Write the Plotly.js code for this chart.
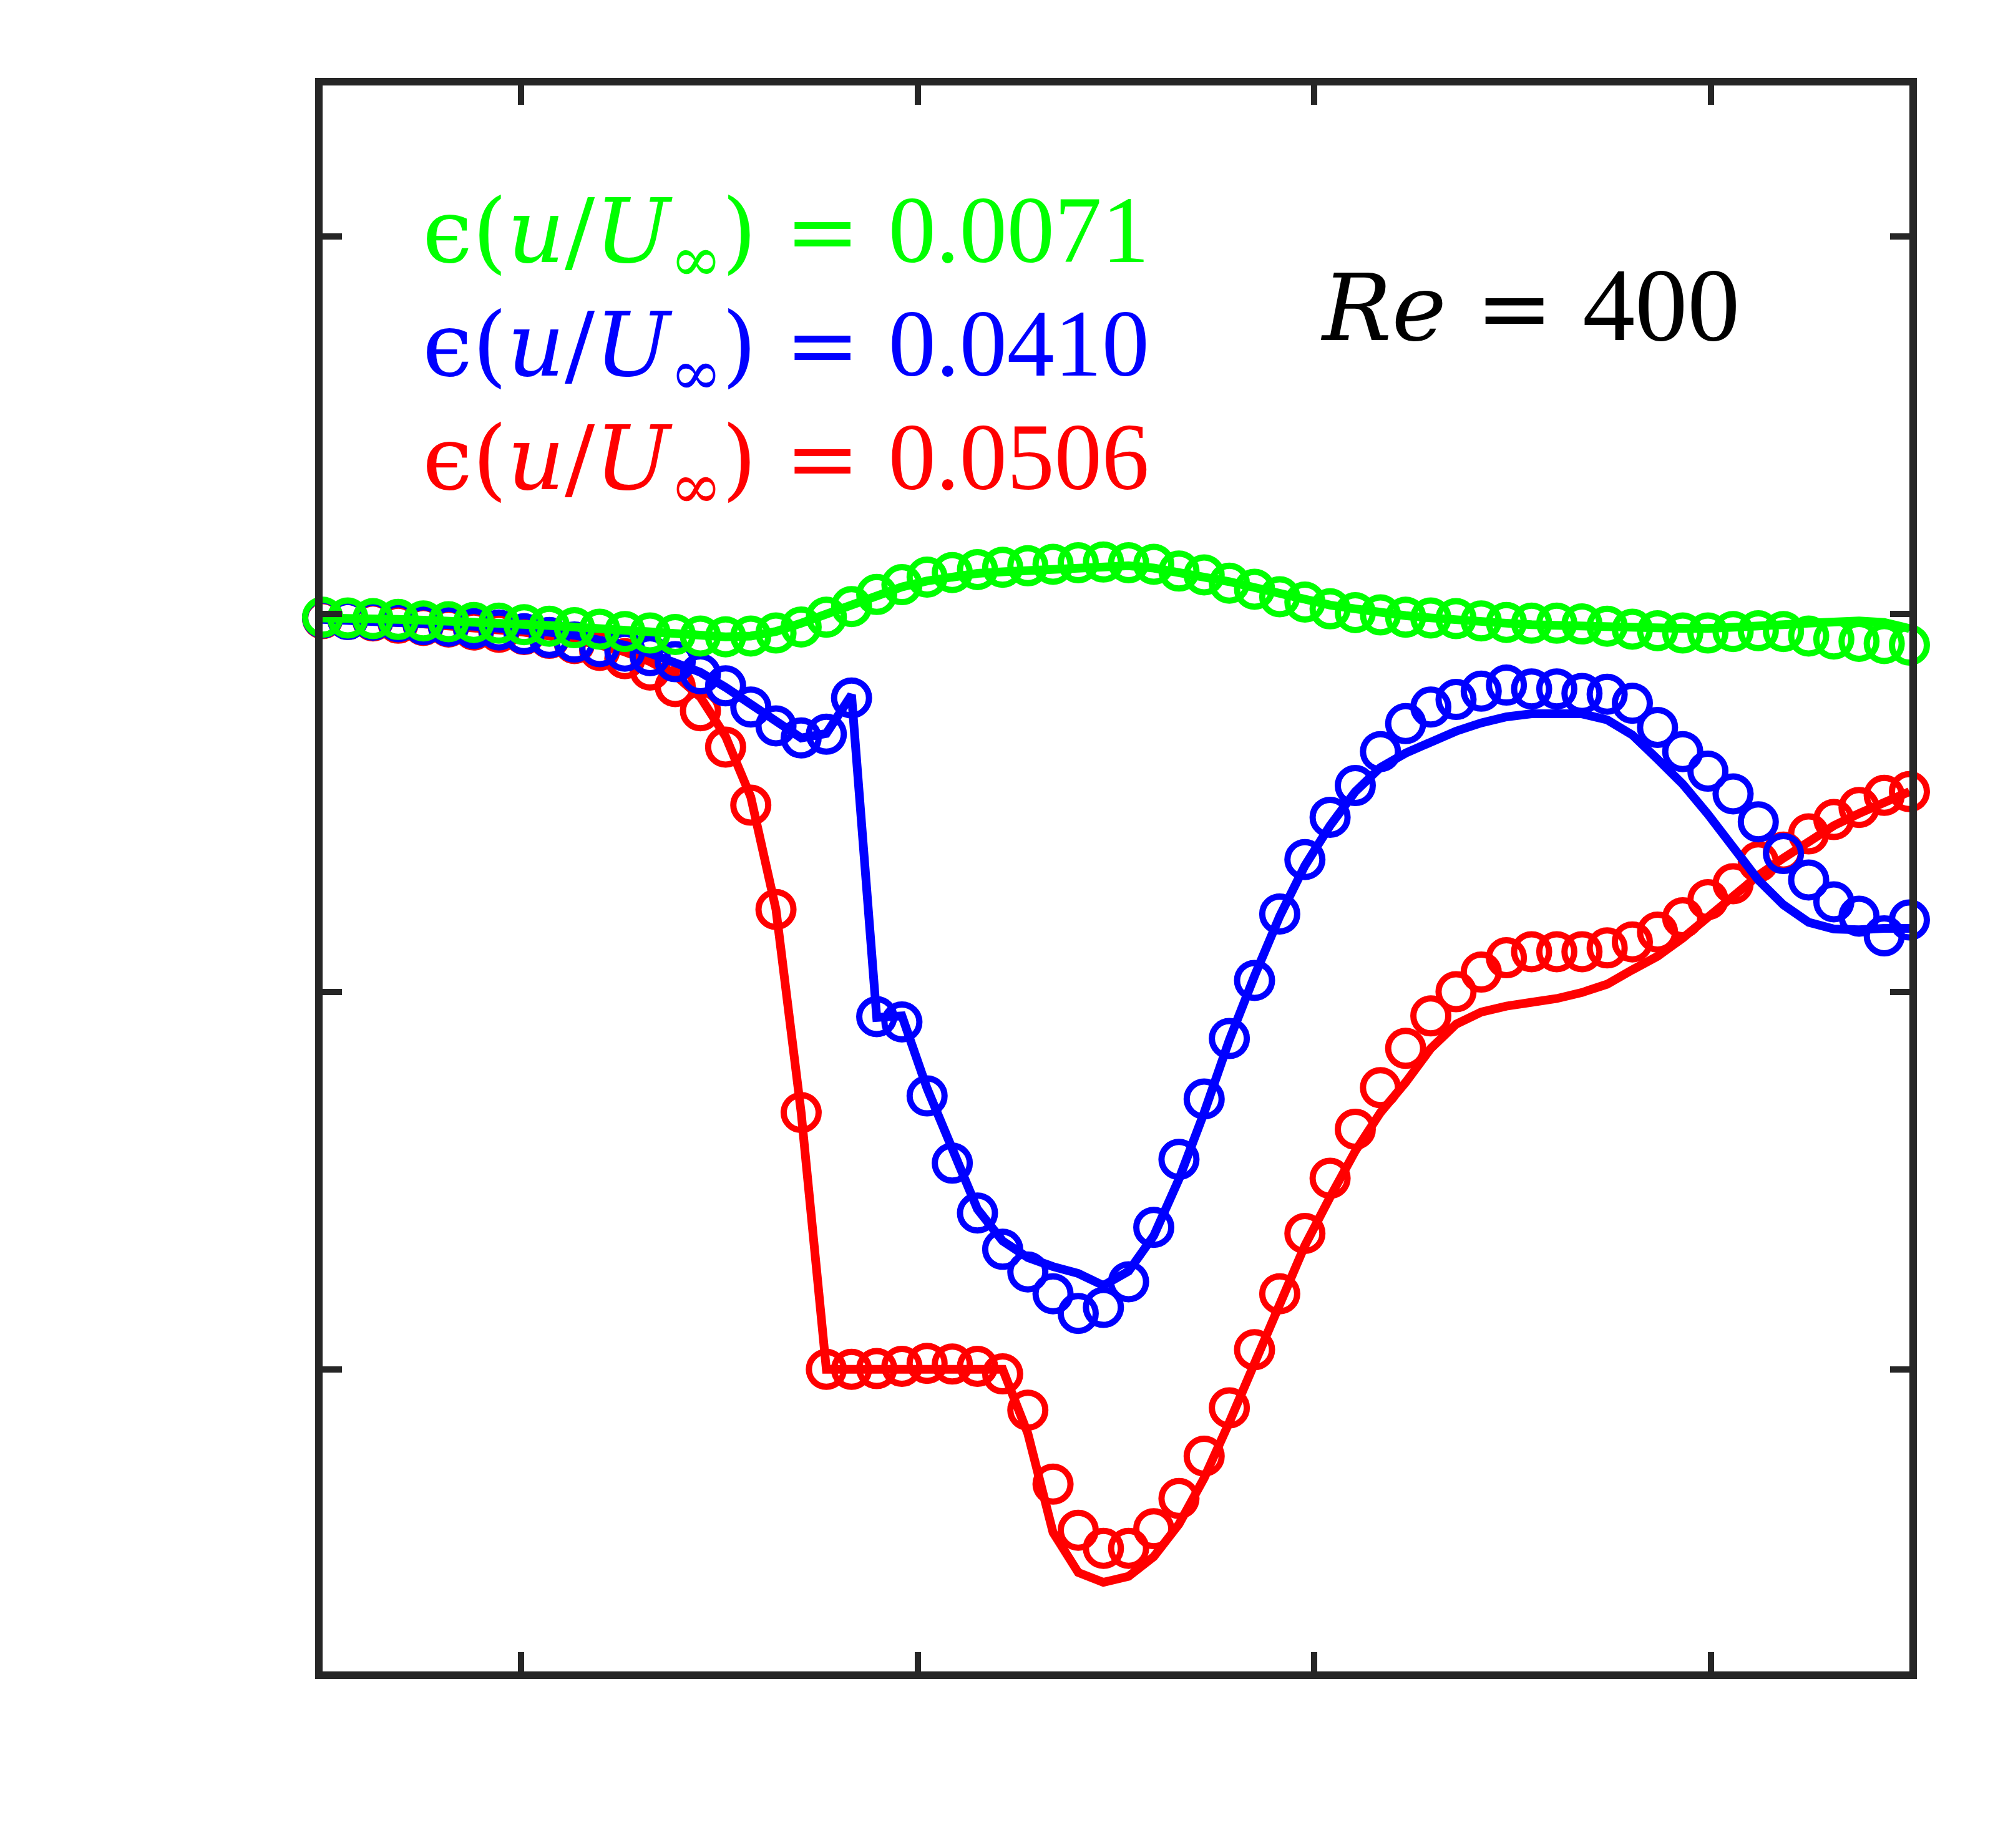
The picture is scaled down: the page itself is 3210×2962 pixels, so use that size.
<!DOCTYPE html>
<html>
<head>
<meta charset="utf-8">
<script src="https://cdn.plot.ly/plotly-3.0.1.min.js"></script>
<style>
  html, body { margin: 0; padding: 0; background: #ffffff; }
  #chart { width: 3210px; height: 2962px; }
</style>
</head>
<body>
<div id="chart"></div>
<script>
// station index along the profile (64 stations)
const xs = [0, 1, 2, 3, 4, 5, 6, 7, 8, 9, 10, 11, 12, 13, 14, 15,
            16, 17, 18, 19, 20, 21, 22, 23, 24, 25, 26, 27, 28, 29, 30, 31,
            32, 33, 34, 35, 36, 37, 38, 39, 40, 41, 42, 43, 44, 45, 46, 47,
            48, 49, 50, 51, 52, 53, 54, 55, 56, 57, 58, 59, 60, 61, 62, 63];

// --- red: epsilon = 0.0506 ---
const redLine = [0.994, 0.993, 0.991, 0.989, 0.987, 0.985, 0.982, 0.979, 0.976, 0.972, 0.966, 0.959, 0.950, 0.937, 0.919, 0.890,
                 0.838, 0.758, 0.609, 0.340, 0.000, 0.000, 0.000, 0.000, 0.000, 0.000, 0.000, 0.000, -0.085, -0.216, -0.269, -0.282,
                 -0.274, -0.248, -0.205, -0.144, -0.070, 0.010, 0.087, 0.164, 0.228, 0.289, 0.340, 0.380, 0.425, 0.457, 0.473, 0.481,
                 0.486, 0.491, 0.499, 0.510, 0.529, 0.547, 0.571, 0.598, 0.624, 0.654, 0.677, 0.699, 0.720, 0.736, 0.752, 0.765];
const redPts = [0.994, 0.993, 0.991, 0.988, 0.985, 0.983, 0.979, 0.976, 0.973, 0.968, 0.961, 0.952, 0.941, 0.926, 0.904, 0.872,
                0.824, 0.747, 0.609, 0.340, 0.000, 0.000, 0.001, 0.004, 0.008, 0.007, 0.004, -0.006, -0.054, -0.152, -0.213, -0.237,
                -0.237, -0.211, -0.171, -0.115, -0.051, 0.026, 0.100, 0.180, 0.253, 0.318, 0.373, 0.425, 0.468, 0.500, 0.526, 0.545,
                0.553, 0.553, 0.553, 0.558, 0.566, 0.579, 0.598, 0.622, 0.643, 0.672, 0.685, 0.709, 0.728, 0.744, 0.760, 0.765];

// --- blue: epsilon = 0.0410 ---
const blueLine = [0.993, 0.992, 0.991, 0.990, 0.988, 0.986, 0.984, 0.982, 0.979, 0.976, 0.972, 0.966, 0.959, 0.948, 0.937, 0.923,
                  0.903, 0.881, 0.857, 0.836, 0.842, 0.893, 0.466, 0.468, 0.372, 0.292, 0.212, 0.170, 0.148, 0.136, 0.127, 0.111,
                  0.130, 0.177, 0.252, 0.340, 0.436, 0.521, 0.600, 0.667, 0.720, 0.765, 0.797, 0.816, 0.832, 0.845, 0.856, 0.864,
                  0.868, 0.869, 0.868, 0.860, 0.840, 0.808, 0.775, 0.735, 0.690, 0.648, 0.615, 0.592, 0.583, 0.582, 0.584, 0.584];
const bluePts = [0.995, 0.993, 0.992, 0.990, 0.986, 0.984, 0.981, 0.979, 0.974, 0.969, 0.963, 0.957, 0.951, 0.945, 0.937, 0.921,
                 0.905, 0.877, 0.852, 0.836, 0.841, 0.889, 0.467, 0.460, 0.362, 0.273, 0.207, 0.159, 0.129, 0.100, 0.074, 0.082,
                 0.116, 0.188, 0.278, 0.358, 0.438, 0.515, 0.603, 0.675, 0.731, 0.773, 0.818, 0.855, 0.877, 0.887, 0.898, 0.906,
                 0.901, 0.901, 0.895, 0.894, 0.882, 0.850, 0.818, 0.792, 0.762, 0.725, 0.683, 0.648, 0.619, 0.600, 0.574, 0.595];

// --- green: epsilon = 0.0071 ---
const greenLine = [0.995, 0.995, 0.994, 0.993, 0.992, 0.991, 0.990, 0.989, 0.987, 0.985, 0.983, 0.981, 0.978, 0.976, 0.973, 0.971,
                   0.970, 0.971, 0.977, 0.988, 1.000, 1.012, 1.025, 1.036, 1.044, 1.050, 1.054, 1.056, 1.058, 1.060, 1.062, 1.064,
                   1.064, 1.061, 1.054, 1.049, 1.043, 1.035, 1.026, 1.019, 1.012, 1.007, 1.002, 0.998, 0.995, 0.992, 0.989, 0.988,
                   0.986, 0.985, 0.983, 0.982, 0.981, 0.981, 0.981, 0.981, 0.982, 0.984, 0.986, 0.988, 0.990, 0.991, 0.989, 0.981];
const greenPts = [0.996, 0.995, 0.994, 0.993, 0.991, 0.990, 0.989, 0.988, 0.986, 0.984, 0.982, 0.980, 0.977, 0.975, 0.973, 0.971,
                  0.970, 0.971, 0.975, 0.983, 0.996, 1.010, 1.026, 1.039, 1.049, 1.055, 1.059, 1.062, 1.064, 1.066, 1.068, 1.069,
                  1.068, 1.066, 1.057, 1.052, 1.041, 1.033, 1.023, 1.016, 1.007, 1.002, 0.999, 0.996, 0.995, 0.994, 0.991, 0.989,
                  0.988, 0.988, 0.987, 0.984, 0.980, 0.978, 0.975, 0.975, 0.977, 0.978, 0.977, 0.971, 0.967, 0.964, 0.961, 0.959];

const xTicks = [7.875, 23.625, 39.375, 55.125];
const yTicks = [0, 0.5, 1.0, 1.5];

const errValues = ["0.0071", "0.0410", "0.0506"];
const errColors = ["#00ff00", "#0000ff", "#ff0000"];

const LINE_W = 14;
const MARK_SIZE = 56;
const MARK_W = 10;

function lineTrace(y, color) {
    return {
        x: xs, y: y, type: "scatter", mode: "lines",
        line: { color: color, width: LINE_W },
        cliponaxis: false, hoverinfo: "skip"
    };
}

function markTrace(y, color) {
    return {
        x: xs, y: y, type: "scatter", mode: "markers",
        marker: { symbol: "circle-open", size: MARK_SIZE, color: color, line: { color: color, width: MARK_W } },
        cliponaxis: false, hoverinfo: "skip"
    };
}

// red first, green last (green sits on top)
const traces = [
    lineTrace(redLine, "#ff0000"),
    markTrace(redPts, "#ff0000"),
    lineTrace(blueLine, "#0000ff"),
    markTrace(bluePts, "#0000ff"),
    lineTrace(greenLine, "#00ff00"),
    markTrace(greenPts, "#00ff00")
];

const axisStyle = {
    showline: true, linecolor: "#262626", linewidth: 12,
    mirror: "ticks", ticks: "inside", ticklen: 31, tickwidth: 10, tickcolor: "#262626",
    showticklabels: false, showgrid: false, zeroline: false
};

const FONT = "Liberation Serif, DejaVu Serif, serif";
// wider serif for the math part, digits stay in the narrower face
const MATH = "font-family:DejaVu Serif;font-size:143px";

const annotations = errValues.map((v, k) => ({
    xref: "paper", yref: "paper",
    x: 0.062, y: [0.9045, 0.8332, 0.7615][k],
    xanchor: "left", yanchor: "middle",
    text: '<span style="' + MATH + '">ϵ(<i>u</i>/<i>U</i><sub>∞</sub>) = </span>' + v,
    showarrow: false,
    font: { family: FONT, size: 152, color: errColors[k] }
}));

annotations.push({
    xref: "paper", yref: "paper",
    x: 0.628, y: 0.862,
    xanchor: "left", yanchor: "middle",
    text: '<span style="font-family:DejaVu Serif;font-size:148px"><i>Re</i> = </span>400',
    showarrow: false,
    font: { family: FONT, size: 168, color: "#000000" }
});

const layout = {
    width: 3210, height: 2962,
    margin: { l: 517, r: 150, t: 137, b: 283 },
    paper_bgcolor: "#ffffff", plot_bgcolor: "#ffffff",
    showlegend: false,
    xaxis: Object.assign({ range: [0, 63], tickvals: xTicks }, axisStyle),
    yaxis: Object.assign({ range: [-0.4, 1.7], tickvals: yTicks }, axisStyle),
    annotations: annotations
};

Plotly.newPlot("chart", traces, layout, { displayModeBar: false, staticPlot: true });
</script>
</body>
</html>
